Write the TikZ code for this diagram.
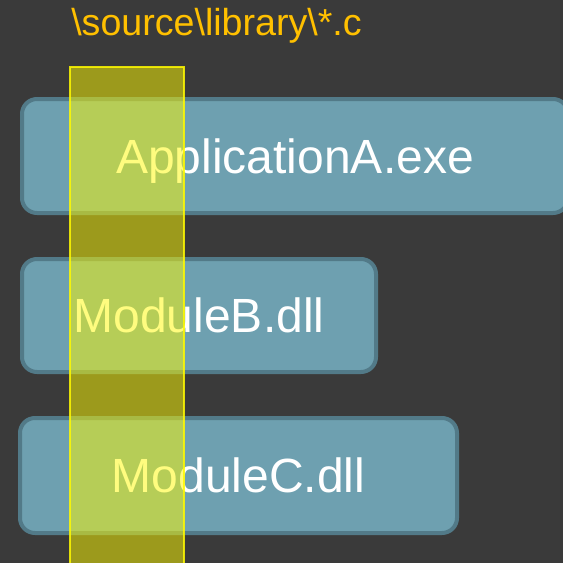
\documentclass[tikz,border=0pt]{standalone}
\usepackage{fontspec}
\setmainfont{Liberation Sans}
\definecolor{bg}{RGB}{58,58,58}
\definecolor{boxfill}{RGB}{110,160,176}
\definecolor{boxline}{RGB}{82,122,136}
\definecolor{hdr}{RGB}{255,192,0}
\definecolor{mark}{RGB}{255,250,0}

\begin{document}
\begin{tikzpicture}
  [x=1pt,y=-1pt,
   box/.style={rectangle,rounded corners=15pt,fill=boxfill,draw=boxline,line width=4pt,
     text=white,font=\fontsize{48}{54}\selectfont,inner sep=0pt,
     text height=34.4pt,text depth=0pt},
   strip/.style={fill=mark,fill opacity=0.5,draw=mark,draw opacity=0.85,line width=2pt}]
  \fill[bg] (0,0) rectangle (563,563);
  \useasboundingbox (0,0) rectangle (563,563);
  \clip (0,0) rectangle (563,563);

  \node (path) at (216.5,35) [anchor=base,text=hdr,font=\fontsize{37.6}{44}\selectfont]
    {\textbackslash source\textbackslash library\textbackslash *.c};

  \node (appA) at (295,156)   [box,minimum width=546pt,minimum height=114pt] {ApplicationA.exe};
  \node (modB) at (199,315.5) [box,minimum width=354pt,minimum height=113pt] {ModuleB.dll};
  \node (modC) at (238.5,475.5) [box,minimum width=437pt,minimum height=115pt] {ModuleC.dll};

  \draw[strip] (70,67) rectangle (184,570);
\end{tikzpicture}
\end{document}
